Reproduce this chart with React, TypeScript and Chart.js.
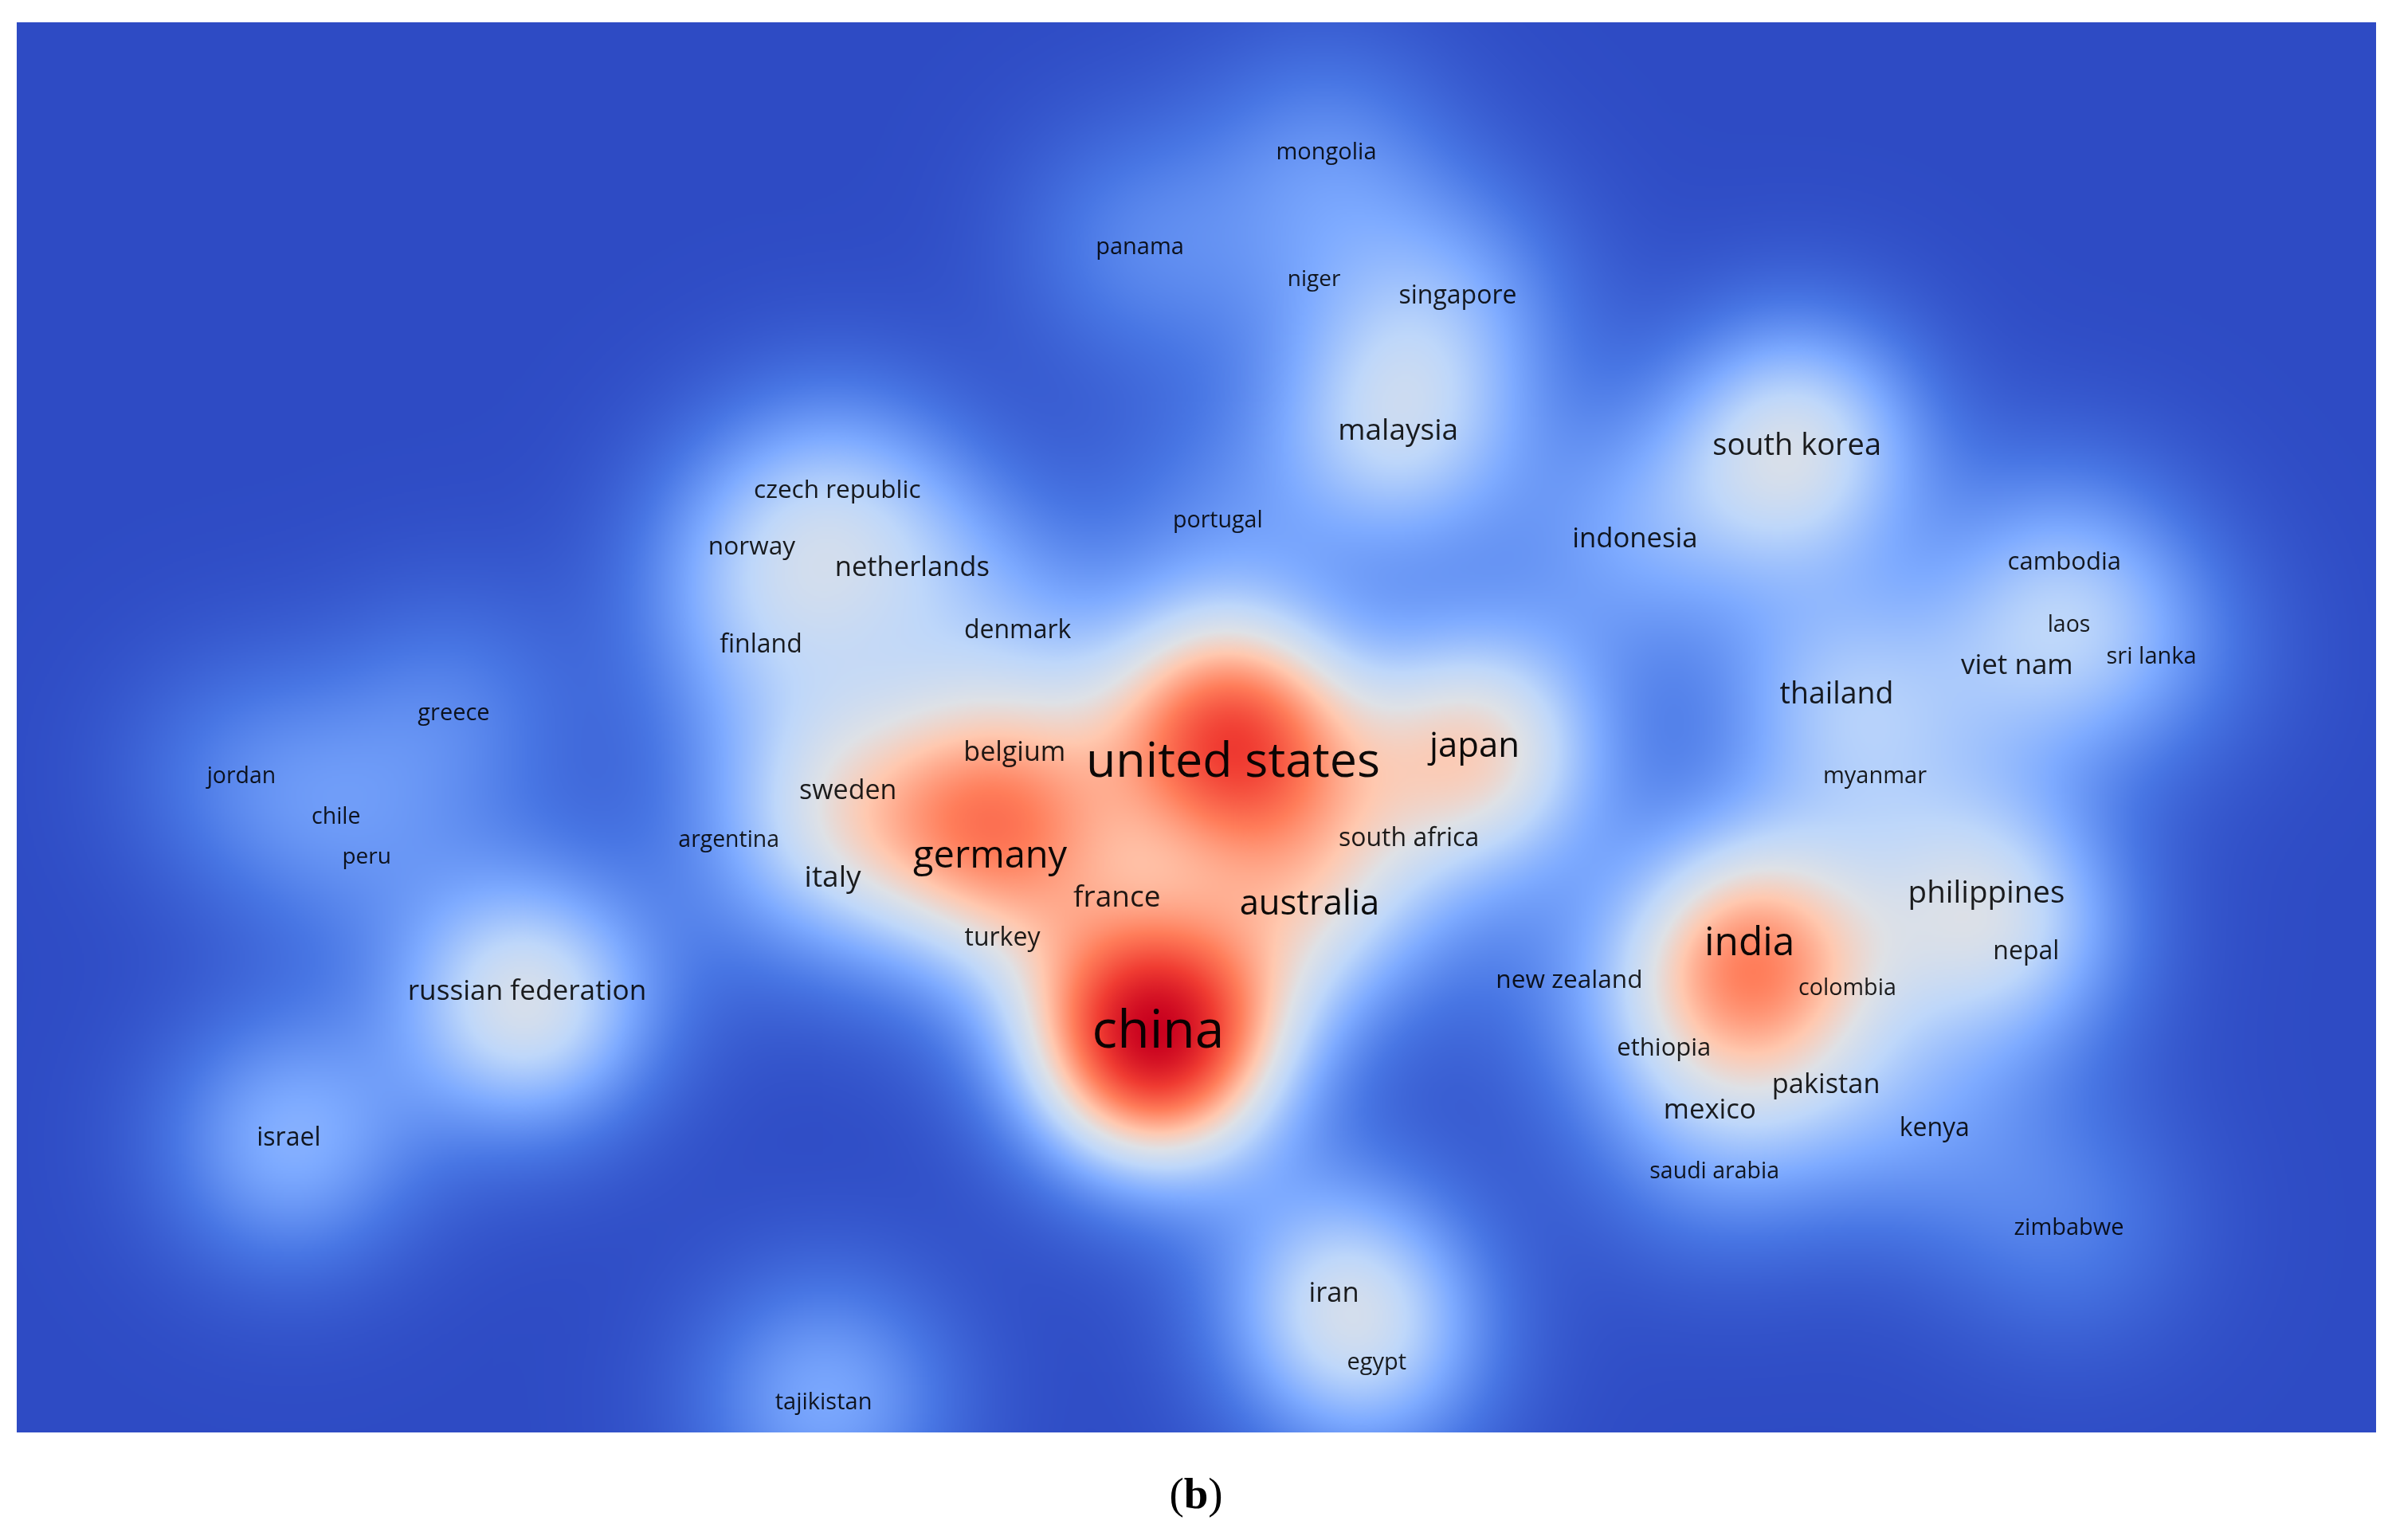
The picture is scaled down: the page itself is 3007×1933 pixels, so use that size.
import React, { useEffect, useRef } from "react";
import { Chart, registerables } from "chart.js";

Chart.register(...registerables);

const names = ["mongolia","panama","niger","singapore","malaysia","south korea","portugal","indonesia","czech republic","norway","netherlands","finland","denmark","cambodia","laos","viet nam","sri lanka","thailand","myanmar","greece","jordan","chile","peru","argentina","sweden","belgium","united states","japan","south africa","germany","italy","france","australia","turkey","india","philippines","nepal","colombia","new zealand","china","ethiopia","pakistan","mexico","kenya","saudi arabia","zimbabwe","iran","egypt","tajikistan","russian federation","israel"];
const labelX = [868,746,860,954,915,1176,797,1070,548,492,597,498,666,1351,1354,1320,1408,1202,1227,297,158,220,240,477,555,664,807,965,922,648,545,731,857,656,1145,1300,1326,1209,1027,758,1089,1195,1119,1266,1122,1354,873,901,539,345,189];
const labelY = [99,161,182,193,281,291,340,352,320,357,371,421,412,367,408,435,429,454,507,466,507,534,560,549,517,492,498,488,548,560,574,587,591,613,617,584,622,646,641,675,685,709,726,738,766,803,846,891,917,648,744];
const labelWeight = [29,29,28,32,37,38,28.6,34.7,31.5,31.6,34.5,32,32,31,28.5,35,29,37.5,29,29,28.4,28.5,28,28.4,34,34,61,43.7,32,47,37,37,43.6,32,49.6,38.5,32,28.7,31.6,66,31,34.4,34.7,32,28.5,29,34.6,29,29,35.2,32];

const nodeX = [868,745,860,953,915,1175,797,1070,548,492,597,498,665,1351,1354,1320,1408,1202,1227,297,158,220,240,477,555,665,805,968,890,655,545,730,860,655,1145,1298,1325,1205,1030,756,1090,1195,1120,1265,1122,1355,878,900,540,345,190];
const nodeY = [100,160,182,193,282,291,340,352,320,357,370,420,412,367,408,435,430,453,506,465,505,535,560,548,520,495,480,490,560,545,575,590,590,612,622,590,625,645,640,680,690,710,725,738,765,800,845,890,915,655,745];
const nodeDensity = [0.15,0.15,0.07,0.18,0.35,0.44,0.12,0.2,0.18,0.15,0.17,0.17,0.12,0.15,0.07,0.15,0.12,0.25,0.09,0.14,0.12,0.07,0.06,0.06,0.28,0.15,0.78,0.52,0.05,0.47,0.12,0.05,0.33,0.08,0.6,0.32,0.13,0.03,0.08,0.97,0.08,0.12,0.1,0.12,0.07,0.13,0.32,0.18,0.25,0.46,0.27];

const colorStops: number[][] = [
  [0, 46, 75, 196],
  [0.12, 72, 118, 228],
  [0.25, 125, 170, 255],
  [0.38, 190, 215, 250],
  [0.48, 222, 225, 230],
  [0.58, 255, 200, 175],
  [0.72, 255, 125, 90],
  [0.85, 240, 60, 50],
  [1, 200, 0, 30],
];

const SIGMA = 60;
const caption = ["(", "b", ")"];

function colorAt(t: number): number[] {
  const v = Math.min(1, Math.max(0, t));
  for (let i = 1; i < colorStops.length; i++) {
    if (v <= colorStops[i][0]) {
      const a = colorStops[i - 1];
      const b = colorStops[i];
      const f = (v - a[0]) / (b[0] - a[0]);
      return [a[1] + (b[1] - a[1]) * f, a[2] + (b[2] - a[2]) * f, a[3] + (b[3] - a[3]) * f];
    }
  }
  return colorStops[colorStops.length - 1].slice(1);
}

const densityPlugin = {
  id: "density",
  beforeDatasetsDraw(chart: any) {
    const { ctx, chartArea: area, scales } = chart;
    const step = 2;
    const w = Math.ceil(area.width / step);
    const h = Math.ceil(area.height / step);
    const off = document.createElement("canvas");
    off.width = w;
    off.height = h;
    const octx = off.getContext("2d")!;
    const img = octx.createImageData(w, h);
    const field = new Float32Array(w * h);
    const sx = Math.abs(scales.x.getPixelForValue(SIGMA) - scales.x.getPixelForValue(0));
    const rows = chart.data.datasets[0].data as { x: number; y: number; d: number }[];
    rows.forEach((p) => {
      const cx = (scales.x.getPixelForValue(p.x) - area.left) / step;
      const cy = (scales.y.getPixelForValue(p.y) - area.top) / step;
      const s = sx / step;
      const R = Math.ceil(s * 3.6);
      const k = 1 / (2 * s * s);
      for (let y = Math.max(0, Math.floor(cy - R)); y < Math.min(h, cy + R); y++) {
        for (let x = Math.max(0, Math.floor(cx - R)); x < Math.min(w, cx + R); x++) {
          const dx = x - cx;
          const dy = y - cy;
          field[y * w + x] += p.d * Math.exp(-(dx * dx + dy * dy) * k);
        }
      }
    });
    let maxV = 0;
    for (let i = 0; i < field.length; i++) if (field[i] > maxV) maxV = field[i];
    for (let i = 0; i < field.length; i++) {
      const c = colorAt(field[i] / maxV);
      img.data[i * 4] = c[0];
      img.data[i * 4 + 1] = c[1];
      img.data[i * 4 + 2] = c[2];
      img.data[i * 4 + 3] = 255;
    }
    octx.putImageData(img, 0, 0);
    ctx.save();
    ctx.imageSmoothingEnabled = true;
    ctx.imageSmoothingQuality = "high";
    ctx.drawImage(off, area.left, area.top, area.width, area.height);
    ctx.restore();
  },
  afterDatasetsDraw(chart: any) {
    const { ctx, scales } = chart;
    ctx.save();
    ctx.textAlign = "center";
    ctx.textBaseline = "middle";
    const rows = chart.data.datasets[1].data as { x: number; y: number; w: number; name: string }[];
    rows.forEach((p) => {
      ctx.font = `${p.w}px "Open Sans"`;
      ctx.fillStyle = p.w > 40 ? "rgba(0,0,0,0.95)" : "rgba(0,0,0,0.88)";
      ctx.fillText(p.name, scales.x.getPixelForValue(p.x), scales.y.getPixelForValue(p.y) + 1);
    });
    ctx.textAlign = "left";
    ctx.textBaseline = "alphabetic";
    ctx.fillStyle = "#000";
    const fonts = ['55px "Liberation Serif"', 'bold 55px "Liberation Serif"', '55px "Liberation Serif"'];
    let total = 0;
    caption.forEach((t, i) => {
      ctx.font = fonts[i];
      total += ctx.measureText(t).width;
    });
    let x = 1501 - total / 2;
    caption.forEach((t, i) => {
      ctx.font = fonts[i];
      ctx.fillText(t, x, 1893);
      x += ctx.measureText(t).width;
    });
    ctx.restore();
  },
};

export default function App() {
  const ref = useRef<HTMLCanvasElement | null>(null);
  useEffect(() => {
    const chart = new Chart(ref.current!, {
      type: "scatter",
      data: {
        datasets: [
          { label: "density", data: names.map((_, i) => ({ x: nodeX[i], y: nodeY[i], d: nodeDensity[i] })), pointRadius: 0 },
          { label: "labels", data: names.map((n, i) => ({ x: labelX[i], y: labelY[i], w: labelWeight[i], name: n })), pointRadius: 0 },
        ],
      } as any,
      options: {
        responsive: false,
        animation: false,
        layout: { padding: { left: 21, top: 28, right: 25, bottom: 135 } },
        plugins: { legend: { display: false }, tooltip: { enabled: false }, title: { display: false } },
        scales: {
          x: { type: "linear", display: false, min: 11, max: 1555 },
          y: { type: "linear", display: false, min: 14, max: 937, reverse: true },
        },
      },
      plugins: [densityPlugin],
    });
    return () => chart.destroy();
  }, []);
  return (
    <div style={{ position: "absolute", left: 0, top: 0, width: 3007, height: 1933, background: "#fff" }}>
      <canvas ref={ref} width={3007} height={1933} style={{ display: "block" }} />
    </div>
  );
}
